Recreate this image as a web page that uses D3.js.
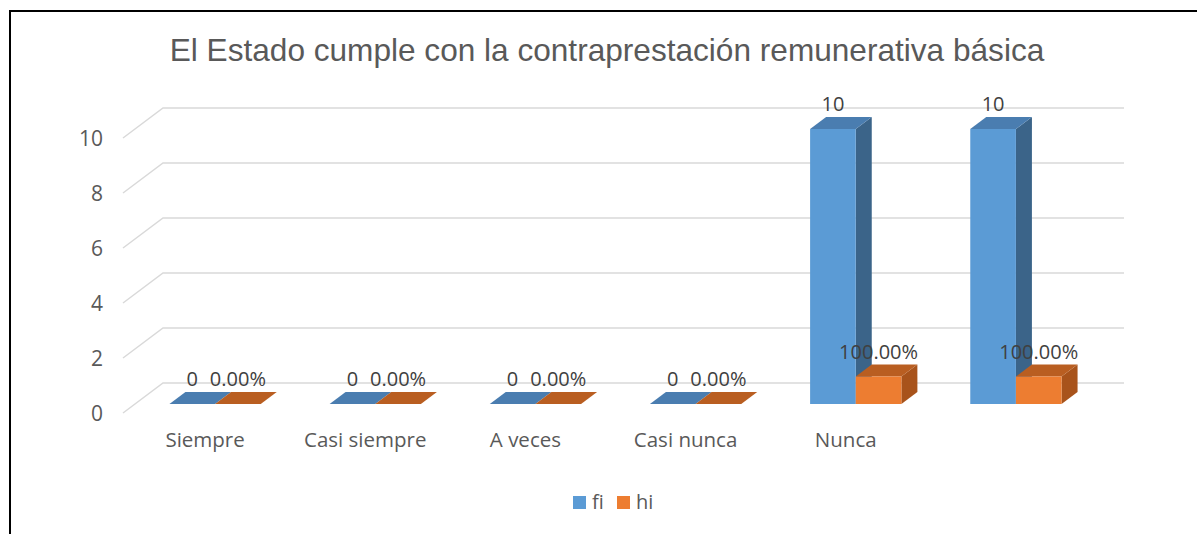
<!DOCTYPE html>
<html>
<head>
<meta charset="utf-8">
<script src="https://cdn.jsdelivr.net/npm/d3@7"></script>
<style>
  html, body { margin: 0; padding: 0; background: #fff; }
  svg { display: block; }
</style>
</head>
<body>
<script>
const categories = ["Siempre", "Casi siempre", "A veces", "Casi nunca", "Nunca", ""];
const fi = [0, 0, 0, 0, 10, 10];
const hi = [0, 0, 0, 0, 1, 1];
const fiLabels = ["0", "0", "0", "0", "10", "10"];
const hiLabels = ["0.00%", "0.00%", "0.00%", "0.00%", "100.00%", "100.00%"];
const yTicks = [0, 2, 4, 6, 8, 10];
const seriesNames = ["fi", "hi"];

const width = 1197, height = 534;
const labelFont = "'Open Sans', 'Noto Sans', sans-serif";

// depth of the 3d box: t = 0 back wall, t = 1 front edge
const depth = {dx: -40, dy: 30};
const proj = (x, y, t) => [x + depth.dx * t, y + depth.dy * t];

const colors = {
  fi: {front: "#5b9bd5", top: "#4a7db0", side: "#3b6489"},
  hi: {front: "#ed7d31", top: "#b95e21", side: "#a8531b"}
};

const svg = d3.select("body").append("svg")
    .attr("width", width)
    .attr("height", height);

// frame (only top and left edges show)
svg.append("path")
    .attr("d", `M10,534V11H${width}`)
    .attr("fill", "none")
    .attr("stroke", "#000")
    .attr("stroke-width", 2);

svg.append("text")
    .attr("x", 607)
    .attr("y", 61)
    .attr("text-anchor", "middle")
    .attr("font-family", "'Liberation Sans', Arial, sans-serif")
    .attr("font-size", 31.6)
    .attr("fill", "#595959")
    .text("El Estado cumple con la contraprestación remunerativa básica");

const x = d3.scaleBand().domain(categories).range([163, 1124]);
const y = d3.scaleLinear().domain([0, 10]).range([383, 108]);
const groupW = x.bandwidth() * 0.57;
const xs = d3.scaleBand().domain(seriesNames).range([0, groupW]);

// gridlines: back wall + side wall diagonal
const grid = svg.append("g")
    .attr("stroke", "#d9d9d9")
    .attr("stroke-width", 1.5)
    .attr("fill", "none");
yTicks.forEach(v => {
  const [fx, fy] = proj(x.range()[0], y(v), 1);
  grid.append("path")
      .attr("d", `M${fx},${fy}L${x.range()[0]},${y(v)}H${x.range()[1]}`);
});

// y tick labels
svg.append("g")
    .attr("font-family", labelFont)
    .attr("font-size", 21)
    .attr("fill", "#595959")
    .attr("text-anchor", "end")
  .selectAll("text")
  .data(yTicks)
  .join("text")
    .attr("x", 103)
    .attr("y", d => proj(0, y(d), 1)[1])
    .attr("dy", "0.36em")
    .text(d => d);

// bars
const t0 = 0.3, t1 = 0.7;
const bars = svg.append("g");
const labels = [];
categories.forEach((c, i) => {
  const gx = x(c) + (x.bandwidth() - groupW) / 2;
  [[fi, "fi", fiLabels], [hi, "hi", hiLabels]].forEach(([vals, s, labs]) => {
    const xa = gx + xs(s), xb = xa + xs.bandwidth();
    const yv = y(vals[i]), yb = y(0);
    const col = colors[s];
    const poly = pts => "M" + pts.map(p => proj(p[0], p[1], p[2]).join(",")).join("L") + "Z";
    if (vals[i] > 0) {
      bars.append("path")
          .attr("d", poly([[xb, yv, t1], [xb, yb, t1], [xb, yb, t0], [xb, yv, t0]]))
          .attr("fill", col.side);
    }
    bars.append("path")
        .attr("d", poly([[xa, yv, t1], [xb, yv, t1], [xb, yv, t0], [xa, yv, t0]]))
        .attr("fill", col.top);
    if (vals[i] > 0) {
      bars.append("path")
          .attr("d", poly([[xa, yv, t1], [xb, yv, t1], [xb, yb, t1], [xa, yb, t1]]))
          .attr("fill", col.front);
    }
    const cx = (xa + xb) / 2 + depth.dx * t1;
    labels.push({x: cx, y: proj(0, yv, t0)[1] - 6, text: labs[i]});
  });
});

svg.append("g")
    .attr("font-family", labelFont)
    .attr("font-size", 20)
    .attr("fill", "#404040")
    .attr("text-anchor", "middle")
  .selectAll("text")
  .data(labels)
  .join("text")
    .attr("x", d => d.x)
    .attr("y", d => d.y)
    .text(d => d.text);

// category labels on the front edge
svg.append("g")
    .attr("font-family", labelFont)
    .attr("font-size", 20.5)
    .attr("fill", "#595959")
    .attr("text-anchor", "middle")
  .selectAll("text")
  .data(categories)
  .join("text")
    .attr("x", d => proj(x(d) + x.bandwidth() / 2, 0, 1)[0] + 2)
    .attr("y", 447)
    .text(d => d);

// legend
const legend = svg.append("g")
    .attr("font-family", labelFont)
    .attr("font-size", 20)
    .attr("fill", "#595959");
const legendX = [573, 617];
seriesNames.forEach((s, i) => {
  legend.append("rect")
      .attr("x", legendX[i])
      .attr("y", 496)
      .attr("width", 13)
      .attr("height", 13)
      .attr("fill", colors[s].front);
  legend.append("text")
      .attr("x", legendX[i] + 19)
      .attr("y", 509)
      .text(s);
});
</script>
</body>
</html>
